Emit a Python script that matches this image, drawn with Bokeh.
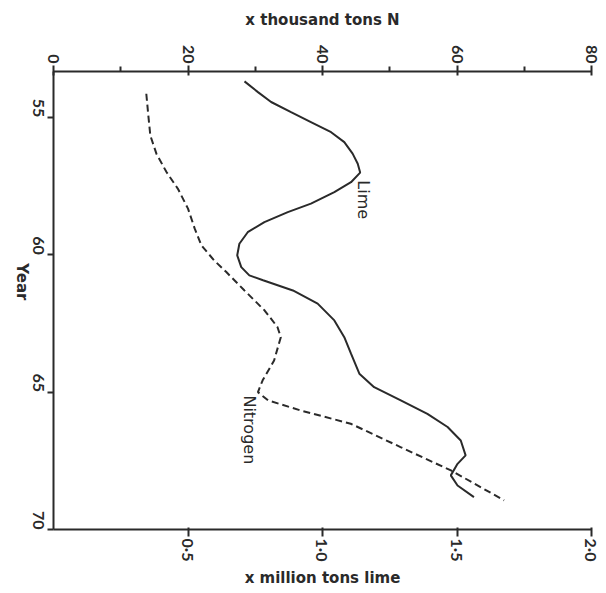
import math
from bokeh.plotting import figure
from bokeh.models import Range1d, LinearAxis, FixedTicker, Label
from bokeh.embed import file_html
from bokeh.resources import INLINE

# Lime (x million tons) by year
lime_year = [53.69, 54.08, 54.44, 54.81, 55.17, 55.54, 55.90, 56.32, 56.69, 57.01,
             57.36, 57.72, 58.14, 58.45, 58.81, 59.18, 59.60, 60.02, 60.45, 60.75,
             60.93, 61.30, 61.78, 62.39, 63.00, 63.60, 64.33, 64.82, 65.30, 65.79,
             66.27, 66.76, 67.30, 67.61, 68.03, 68.40, 68.82]
lime_mt = [0.710, 0.760, 0.809, 0.883, 0.957, 1.032, 1.081, 1.112, 1.131, 1.140,
           1.106, 1.044, 0.957, 0.871, 0.784, 0.722, 0.691, 0.683, 0.698, 0.728,
           0.779, 0.890, 0.982, 1.044, 1.081, 1.106, 1.137, 1.192, 1.291, 1.390,
           1.465, 1.514, 1.532, 1.502, 1.477, 1.502, 1.563]

# Nitrogen (x thousand tons N) by year
n_year = [54.14, 54.93, 55.66, 56.32, 56.99, 57.60, 58.32, 59.05, 59.66, 60.21,
          60.63, 61.30, 62.03, 62.63, 63.00, 63.85, 64.57, 65.00, 65.30, 65.67,
          66.15, 67.00, 67.85, 68.94]
n_kt = [13.8, 14.1, 14.4, 15.3, 16.8, 18.5, 20.0, 21.0, 22.0, 23.9,
        25.7, 28.4, 31.4, 33.3, 33.8, 32.8, 31.1, 30.4, 31.9, 36.8,
        44.2, 51.6, 59.1, 67.0]

n_ticks = [0, 20, 40, 60, 80]
n_minor = [10, 30, 50, 70]
lime_ticks = [0.5, 1.0, 1.5, 2.0]
lime_tick_labels = ["0·5", "1·0", "1·5", "2·0"]
year_ticks = [55, 60, 65, 70]

FONT = "Lato"
TITLE_FONT = "DejaVu Sans"
INK = "#2a2a2a"

p = figure(width=606, height=593, output_backend="svg", toolbar_location=None,
           x_range=Range1d(0, 80), y_range=Range1d(70, 53.33),
           x_axis_location="above", y_axis_location="left",
           min_border_left=52, min_border_right=15, min_border_top=71, min_border_bottom=64)
p.extra_x_ranges = {"lime": Range1d(0, 2)}
p.outline_line_color = None
p.grid.grid_line_color = None
p.background_fill_color = "white"
p.border_fill_color = "white"

lime_axis = LinearAxis(x_range_name="lime")
p.add_layout(lime_axis, "below")

def style_axis(ax):
    ax.axis_line_color = INK
    ax.axis_line_width = 2
    ax.major_tick_line_color = INK
    ax.major_tick_line_width = 2
    ax.minor_tick_line_color = INK
    ax.minor_tick_line_width = 2
    ax.major_label_text_font = FONT
    ax.major_label_text_font_style = "bold"
    ax.major_label_text_font_size = "16px"
    ax.major_label_text_color = INK
    ax.axis_label_text_font = TITLE_FONT
    ax.axis_label_text_font_style = "bold"
    ax.axis_label_text_font_size = "15px"
    ax.axis_label_text_color = INK
    ax.major_label_orientation = -math.pi / 2

top = p.xaxis[0]
style_axis(top)
top.ticker = FixedTicker(ticks=n_ticks, minor_ticks=n_minor)
top.major_tick_in = 4
top.major_tick_out = 6
top.minor_tick_in = 0
top.minor_tick_out = 5
top.major_label_standoff = 2
top.axis_label = "x thousand tons N"
top.axis_label_standoff = 13

style_axis(lime_axis)
lime_axis.ticker = FixedTicker(ticks=lime_ticks, minor_ticks=[])
lime_axis.major_label_overrides = {t: s for t, s in zip(lime_ticks, lime_tick_labels)}
lime_axis.major_tick_in = 2
lime_axis.major_tick_out = 7
lime_axis.major_label_standoff = 2
lime_axis.axis_label = "x million tons lime"
lime_axis.axis_label_standoff = 5

left = p.yaxis[0]
style_axis(left)
left.ticker = FixedTicker(ticks=year_ticks, minor_ticks=[])
left.major_tick_in = 0
left.major_tick_out = 6
left.major_label_standoff = 9
left.axis_label = "Year"
left.axis_label_standoff = 3
try:
    left.axis_label_orientation = -math.pi / 2
except Exception:
    pass

p.line(lime_mt, lime_year, x_range_name="lime", line_color=INK, line_width=2)
p.line(n_kt, n_year, line_color=INK, line_width=2, line_dash="7 4")

def add_label(x, y, text, range_name="default", align="left"):
    lab = Label(x=x, y=y, text=text, angle=-math.pi / 2, x_range_name=range_name,
                text_align=align, text_baseline="middle", text_font=TITLE_FONT,
                text_font_size="16px", text_color=INK)
    p.add_layout(lab)

add_label(1.152, 57.29, "Lime", range_name="lime")
add_label(29.2, 65.12, "Nitrogen")

open("out.html", "w").write(file_html(p, INLINE))
